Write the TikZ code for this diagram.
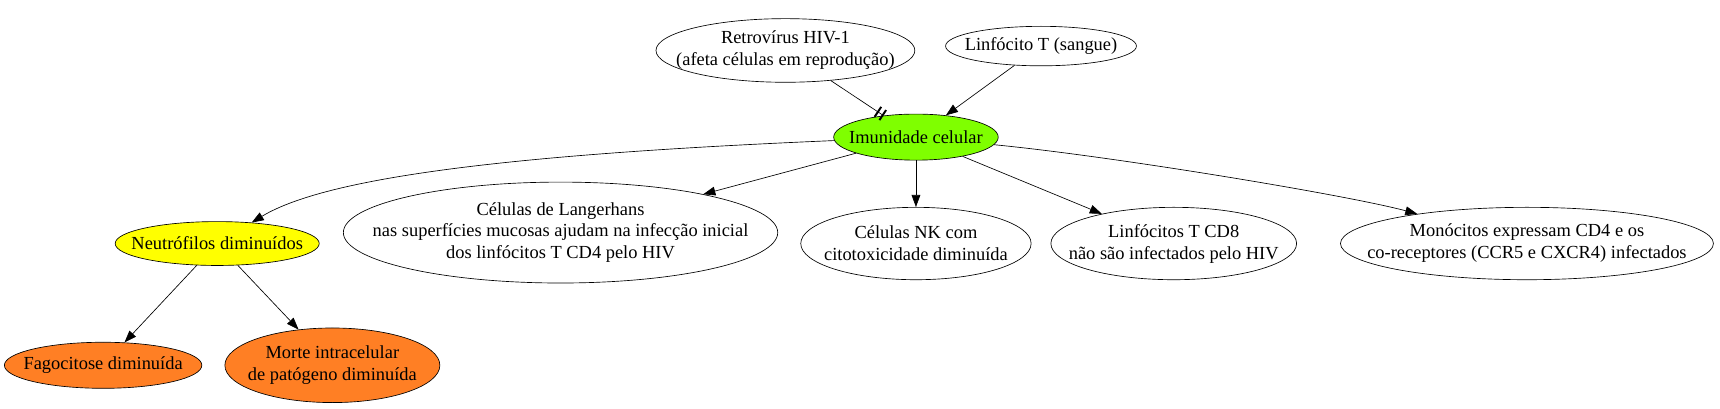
\documentclass[tikz,border=0pt]{standalone}
\usepackage{fontspec}
\setmainfont{Liberation Serif}
\usetikzlibrary{shapes.geometric,arrows.meta}
\definecolor{chart}{HTML}{7FFF00}
\definecolor{yel}{HTML}{FFFF00}
\definecolor{orng}{HTML}{FF7F24}
\begin{document}
\begin{tikzpicture}[x=1pt,y=-1pt,
  ell/.style={draw,ellipse,inner sep=0pt,line width=0.6pt},
  txt/.style={align=center,inner sep=0pt,font=\fontsize{16.8}{20}\selectfont},
  arr/.style={line width=0.6pt,-{Triangle[length=11pt,width=8pt]}},
  bars/.style={line width=0.6pt,-{Bar[width=11pt,line width=1.8pt,sep=3.5pt]Bar[width=11pt,line width=1.8pt]}}]
\useasboundingbox (0,0) rectangle (1568,372);
\node[ell,minimum width=236pt,minimum height=58pt] (retro) at (716,46) {};
\node[txt] (retrot) at (retro) {Retrovírus HIV-1\\(afeta células em reprodução)};
\node[ell,minimum width=174pt,minimum height=36pt] (linf) at (949,42) {};
\node[txt] (linft) at (linf) {Linfócito T (sangue)};
\node[ell,fill=chart,minimum width=150pt,minimum height=42pt] (imun) at (835,125) {};
\node[txt] (imunt) at (imun) {Imunidade celular};
\node[ell,fill=yel,minimum width=186pt,minimum height=40pt] (neut) at (198,222) {};
\node[txt] (neutt) at (neut) {Neutrófilos diminuídos};
\node[ell,minimum width=396pt,minimum height=92pt] (lang) at (511,212) {};
\node[txt] (langt) at (lang) {Células de Langerhans\\nas superfícies mucosas ajudam na infecção inicial\\dos linfócitos T CD4 pelo HIV};
\node[ell,minimum width=210pt,minimum height=66pt] (nk) at (835,222) {};
\node[txt] (nkt) at (nk) {Células NK com\\citotoxicidade diminuída};
\node[ell,minimum width=224pt,minimum height=66pt] (cd8) at (1070,222) {};
\node[txt] (cd8t) at (cd8) {Linfócitos T CD8\\não são infectados pelo HIV};
\node[ell,minimum width=340pt,minimum height=66pt] (mono) at (1392,222) {};
\node[txt] (monot) at (mono) {Monócitos expressam CD4 e os\\co-receptores (CCR5 e CXCR4) infectados};
\node[ell,fill=orng,minimum width=180pt,minimum height=42pt] (fago) at (94,333) {};
\node[txt] (fagot) at (fago) {Fagocitose diminuída};
\node[ell,fill=orng,minimum width=196pt,minimum height=68pt] (morte) at (303,333) {};
\node[txt] (mortet) at (morte) {Morte intracelular\\de patógeno diminuída};
\draw[bars] (retro) -- (imun);
\draw[arr] (linf) -- (imun);
\draw[arr] (imun) .. controls (480,140) and (300,160) .. (neut);
\draw[arr] (imun) -- (lang);
\draw[arr] (imun) -- (nk);
\draw[arr] (imun) -- (cd8);
\draw[arr] (imun) .. controls (1015,142.5) and (1229,178) .. (mono);
\draw[arr] (neut) -- (fago);
\draw[arr] (neut) -- (morte);
\end{tikzpicture}
\end{document}
